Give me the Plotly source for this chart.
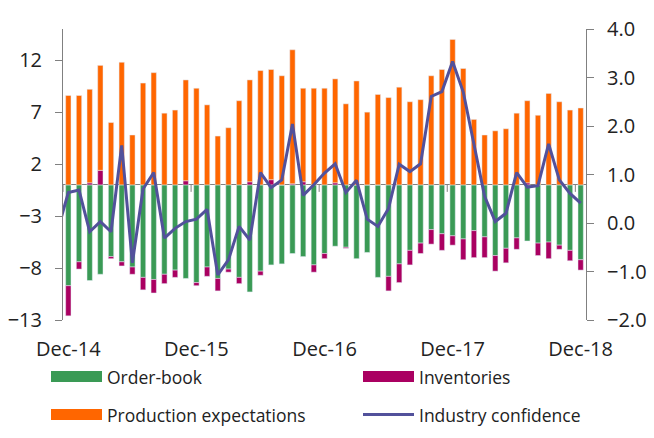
import pandas as pd
import plotly.graph_objects as go

# Months: line series starts one month before the bars (Nov-14), bars Dec-14..Dec-18
months = [d.strftime("%b-%y") for d in pd.date_range("2014-11-01", "2018-12-01", freq="MS")]
bar_months = months[1:]

order_book = [-9.7, -7.4, -9.2, -8.6, -6.9, -7.4, -7.9, -8.9, -9.1, -8.6, -8.2, -9.0,
              -9.4, -7.9, -9.0, -8.1, -8.9, -10.3, -8.3, -7.7, -7.6, -6.6, -6.9, -7.7,
              -6.6, -5.9, -6.0, -7.1, -6.5, -8.9, -8.8, -7.6, -6.3, -5.6, -4.3, -4.7,
              -4.9, -5.2, -4.4, -5.0, -6.8, -6.1, -5.1, -5.4, -5.6, -5.5, -5.8, -6.3,
              -7.2]
inventories = [-2.9, -0.7, 0.2, 1.4, -0.2, -0.4, -0.7, -1.2, -1.3, -0.9, -0.7, 0.4,
               -0.3, -0.9, -1.2, -0.3, -0.6, 0.3, -0.4, 0.5, 0.0, 0.1, 0.3, -0.7,
               -0.5, 0.2, -0.1, 0.0, 0.0, 0.0, -1.4, -1.8, -1.4, -1.0, -1.4, -1.6,
               -0.9, -2.0, -2.6, -2.0, -1.5, -1.4, -1.1, 0.2, -1.2, -1.6, -0.4, -1.0,
               -1.0]
production = [8.6, 8.6, 9.0, 10.1, 6.0, 11.8, 4.8, 9.8, 10.8, 6.9, 7.2, 9.7,
              9.3, 7.7, 4.7, 5.5, 8.1, 9.8, 11.0, 10.6, 10.5, 12.9, 9.0, 9.3,
              9.3, 10.0, 7.8, 10.0, 7.0, 8.7, 8.4, 9.4, 8.0, 8.2, 10.5, 11.1,
              14.0, 11.2, 6.3, 4.8, 5.2, 5.4, 6.9, 7.9, 6.7, 8.8, 8.0, 7.2,
              7.4]
confidence = [-0.15, 0.63, 0.68, -0.18, 0.03, -0.18, 1.60, -0.82, 0.70, 1.04, -0.31, -0.11, 0.03,
              0.08, 0.28, -1.07, -0.76, -0.07, -0.35, 1.04, 0.73, 0.89, 2.04, 0.57, 0.79,
              1.03, 1.22, 0.63, 0.88, 0.08, -0.07, 0.30, 1.21, 1.06, 1.22, 2.61, 2.71,
              3.33, 2.70, 1.61, 0.55, 0.03, 0.20, 1.04, 0.74, 0.77, 1.63, 0.89, 0.61,
              0.41]
tick_labels = ["Dec-14", "Dec-15", "Dec-16", "Dec-17", "Dec-18"]

GREEN = "#3a9a55"
PURPLE = "#aa0061"
ORANGE = "#ff6600"
LINE = "#52519b"
AXIS = "#808080"
FONT = "Open Sans"
TXT = "#222222"

fig = go.Figure()
fig.add_trace(go.Bar(x=bar_months, y=order_book, name="Order-book", marker_color=GREEN,
                     width=0.5, showlegend=False))
fig.add_trace(go.Bar(x=bar_months, y=inventories, name="Inventories", marker_color=PURPLE,
                     width=0.5, showlegend=False))
fig.add_trace(go.Bar(x=bar_months, y=production, name="Production expectations",
                     marker_color=ORANGE, width=0.5, showlegend=False))
fig.add_trace(go.Scatter(x=months, y=confidence, name="Industry confidence", mode="lines",
                         line=dict(color=LINE, width=3), yaxis="y2", showlegend=False))

# tick marks on the zero line at category boundaries before each labelled month
shapes = []
for lab in tick_labels:
    xb = months.index(lab) - 0.5
    shapes.append(dict(type="line", xref="x", yref="y", x0=xb, x1=xb,
                       ysizemode="pixel", yanchor=0, y0=0, y1=-7,
                       line=dict(color=AXIS, width=1)))

# custom legend (wide swatches)
W, H = 523.0, 291.0
def px(x):
    return (x - 63.0) / W
def py(y):
    return (320.0 - y) / H

legend_items = [
    ("Order-book", GREEN, "bar", 51, 376.5),
    ("Production expectations", ORANGE, "bar", 51, 414.5),
    ("Inventories", PURPLE, "bar", 363, 376.5),
    ("Industry confidence", LINE, "line", 363, 414.5),
]
annotations = []
for name, col, kind, x0, yc in legend_items:
    if kind == "bar":
        shapes.append(dict(type="rect", xref="paper", yref="paper",
                           x0=px(x0), x1=px(x0 + 51), y0=py(yc - 5.5), y1=py(yc + 5.5),
                           fillcolor=col, line=dict(width=0)))
    else:
        shapes.append(dict(type="line", xref="paper", yref="paper",
                           x0=px(x0), x1=px(x0 + 51), y0=py(yc), y1=py(yc),
                           line=dict(color=col, width=3)))
    annotations.append(dict(text=name, xref="paper", yref="paper", x=px(x0 + 54), y=py(yc),
                            xanchor="left", yanchor="middle", showarrow=False,
                            font=dict(family=FONT, size=17.5, color=TXT)))

fig.update_layout(
    width=654, height=438,
    margin=dict(l=63, r=68, t=29, b=118),
    barmode="relative",
    plot_bgcolor="white", paper_bgcolor="white",
    font=dict(family=FONT, size=19, color=TXT),
    xaxis=dict(type="category", categoryorder="array", categoryarray=months,
               range=[0.5, len(months) - 0.5], tickvals=tick_labels, ticktext=tick_labels,
               ticks="", showline=False, showgrid=False, zeroline=False, automargin=False,
               ticklabelstandoff=15, tickfont=dict(size=20)),
    yaxis=dict(range=[-13, 15], tick0=-13, dtick=5, showline=True, linecolor=AXIS,
               ticks="outside", ticklen=7, tickcolor=AXIS, showgrid=False, automargin=False,
               zeroline=True, zerolinecolor=AXIS, zerolinewidth=1.3,
               ticklabelstandoff=9, tickfont=dict(size=20)),
    yaxis2=dict(range=[-2, 4], dtick=1, tickformat=".1f", overlaying="y", side="right",
                showline=True, linecolor=AXIS, ticks="outside", ticklen=7, tickcolor=AXIS,
                showgrid=False, zeroline=False, ticklabelstandoff=9, automargin=False,
                tickfont=dict(size=20)),
    shapes=shapes,
    annotations=annotations,
)

fig.write_html("out.html", config={"displayModeBar": False},
               post_script="document.body.style.margin='0';")
